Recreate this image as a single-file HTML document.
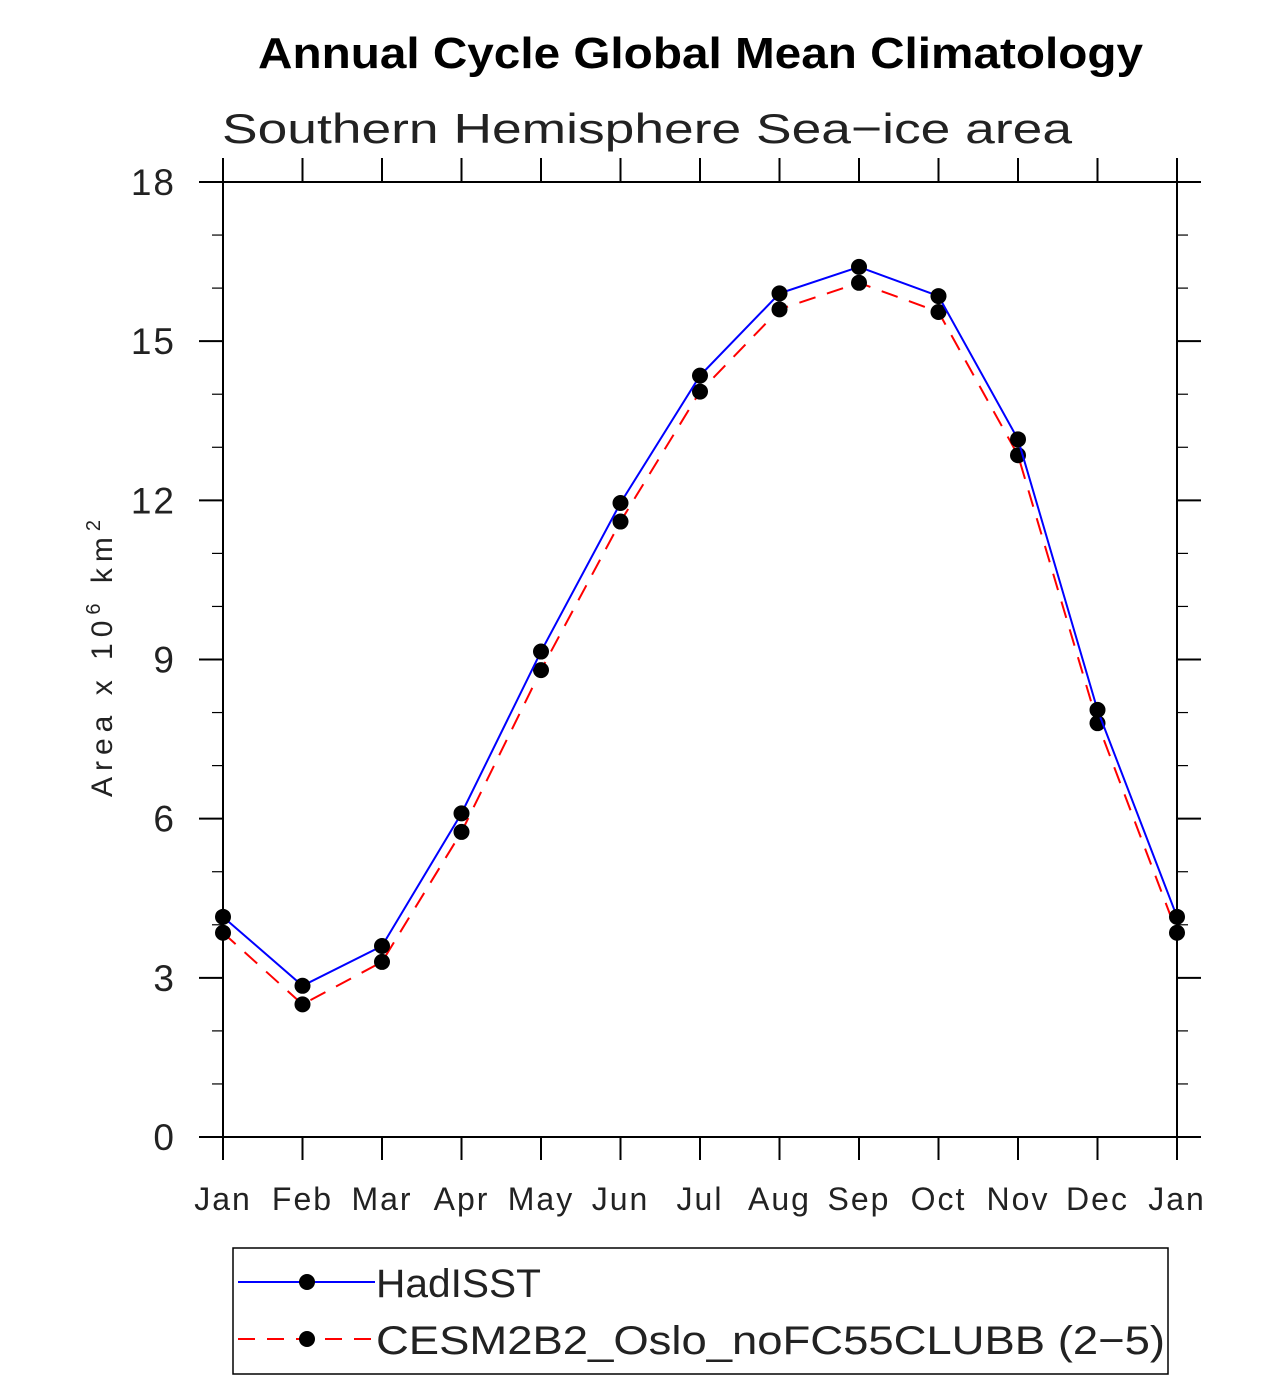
<!DOCTYPE html>
<html><head><meta charset="utf-8"><style>
body{margin:0;background:#fff}
svg{display:block;font-family:"Liberation Sans",sans-serif}
</style></head><body>
<svg id="chart" width="1285" height="1381" viewBox="0 0 1285 1381">
<text x="258" y="68" font-size="44" font-weight="bold" textLength="885" lengthAdjust="spacingAndGlyphs">Annual Cycle Global Mean Climatology</text>
<text x="222" y="143" font-size="42" fill="#222" textLength="850" lengthAdjust="spacingAndGlyphs">Southern Hemisphere Sea−ice area</text>
<text transform="translate(112,797) rotate(-90)" font-size="30" fill="#222" textLength="277" lengthAdjust="spacing">Area x 10<tspan font-size="20" dy="-12">6</tspan><tspan dy="12"> km</tspan><tspan font-size="20" dy="-12">2</tspan></text>
<g id="axes"></g>
<g id="series"></g>
<g>
<rect x="233" y="1248" width="935" height="126" fill="none" stroke="#000" stroke-width="1.5"/>
<g>
<line x1="238" y1="1282" x2="375" y2="1282" stroke="#00f" stroke-width="2"/>
<circle cx="307" cy="1282" r="8"/>
<text x="376" y="1297" font-size="40" fill="#222" textLength="165" lengthAdjust="spacingAndGlyphs">HadISST</text></g>
<g>
<line x1="238" y1="1339" x2="375" y2="1339" stroke="#f00" stroke-width="2" stroke-dasharray="17,12"/>
<circle cx="307" cy="1339" r="8"/>
<text x="376" y="1354" font-size="40" fill="#222" textLength="789" lengthAdjust="spacingAndGlyphs">CESM2B2_Oslo_noFC55CLUBB (2−5)</text></g>
</g>
</svg>
<script>
const months=["Jan","Feb","Mar","Apr","May","Jun","Jul","Aug","Sep","Oct","Nov","Dec","Jan"];
const hadisst=[4.15,2.85,3.6,6.1,9.15,11.95,14.35,15.9,16.4,15.85,13.15,8.05,4.15];
const cesm=[3.85,2.5,3.3,5.75,8.8,11.6,14.05,15.6,16.1,15.55,12.85,7.8,3.85];
const yTicks=[0,3,6,9,12,15,18];
const NS="http://www.w3.org/2000/svg";
const L=223,R=1177,T=182,B=1137;
const xs=i=>L+(R-L)*i/12;
const ys=v=>B-(B-T)*v/18;
function mk(tag,attrs,parent){const e=document.createElementNS(NS,tag);for(const k in attrs)e.setAttribute(k,attrs[k]);parent.appendChild(e);return e;}
const ax=document.getElementById('axes');
const fr=mk('rect',{x:L,y:T,width:R-L,height:B-T,fill:'none',stroke:'#000','stroke-width':2},ax);


months.forEach((m,i)=>{
  const x=xs(i);
  const t1=mk('line',{x1:x,y1:B,x2:x,y2:B+23,stroke:'#000','stroke-width':2},ax);
  
  
  const t2=mk('line',{x1:x,y1:T,x2:x,y2:T-24,stroke:'#000','stroke-width':2},ax);
  
  
  const tx=mk('text',{x:x,y:1210,'text-anchor':'middle','font-size':32,fill:'#222','letter-spacing':2},ax);
  tx.textContent=m;
  
  
});
for(let v=0;v<=18;v+=1){
  const y=ys(v);const major=yTicks.includes(v);
  const len=major?24:11;
  const a=mk('line',{x1:L-len,y1:y,x2:L,y2:y,stroke:'#000','stroke-width':major?2:1.2},ax);
  
  
  const b=mk('line',{x1:R,y1:y,x2:R+len,y2:y,stroke:'#000','stroke-width':major?2:1.2},ax);
  
  
}
yTicks.forEach(v=>{
  const t=mk('text',{x:176,y:ys(v)+13,'text-anchor':'end','font-size':37,fill:'#222','letter-spacing':2},ax);
  t.textContent=v;
  
  
});
const sg=document.getElementById('series');
function draw(data,color,dash,name){
  const p=mk('polyline',{points:data.map((v,i)=>xs(i)+','+ys(v)).join(' '),fill:'none',stroke:color,'stroke-width':2,'stroke-dasharray':dash},sg);
  
  
  data.forEach((v,i)=>{
    const c=mk('circle',{cx:xs(i),cy:ys(v),r:8,fill:'#000'},sg);
    
    
  });
}
draw(cesm,'#f00','17,12','cesm');
draw(hadisst,'#00f','none','hadisst');
</script>
</body></html>
